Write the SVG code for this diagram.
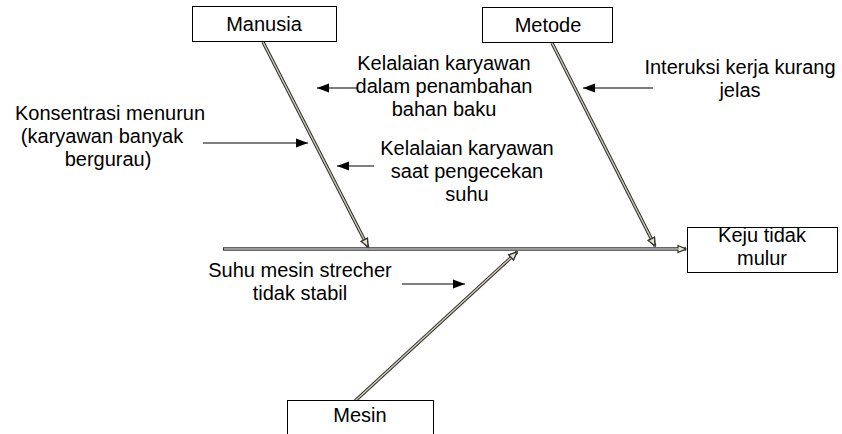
<svg xmlns="http://www.w3.org/2000/svg" width="842" height="434" viewBox="0 0 842 434">
<style>
text{font-family:"Liberation Sans",Arial,sans-serif;font-size:20px;fill:#000;text-anchor:middle}
.box{fill:#fff;stroke:#000;stroke-width:1}
.bo{fill:none;stroke:#333;stroke-width:3.4;marker-end:url(#hol)}
.bi{fill:none;stroke:#d6cfb8;stroke-width:1.3;marker-end:url(#hol)}
.si{fill:none;stroke:#fff;stroke-width:1.2}
.sm{fill:none;stroke:#000;stroke-width:1.2;marker-end:url(#blk)}
</style>
<defs>
<marker id="hol" markerUnits="userSpaceOnUse" markerWidth="14" markerHeight="12" refX="9" refY="4.5" orient="auto" overflow="visible">
<path d="M1,1 L9,4.5 L1,8 Z" fill="#e6e0cc" stroke="#333" stroke-width="1.2"/>
</marker>
<marker id="blk" markerUnits="userSpaceOnUse" markerWidth="14" markerHeight="12" refX="12" refY="5" orient="auto" overflow="visible">
<path d="M0,0.5 L12,5 L0,9.5 Z" fill="#000"/>
</marker>
</defs>
<g id="connectors">
<line class="bo" x1="223" y1="249" x2="686" y2="249"/>
<line class="si" x1="224" y1="249" x2="679" y2="249"/>
<line class="bo" x1="263" y1="42" x2="368" y2="247"/>
<line class="bi" x1="263" y1="42" x2="368" y2="247"/>
<line class="bo" x1="552" y1="43" x2="655" y2="246"/>
<line class="bi" x1="552" y1="43" x2="655" y2="246"/>
<line class="bo" x1="355" y1="401" x2="517" y2="252"/>
<line class="bi" x1="355" y1="401" x2="517" y2="252"/>
<line class="sm" x1="357" y1="88" x2="317" y2="88"/>
<line class="sm" x1="203" y1="143" x2="308" y2="143"/>
<line class="sm" x1="374" y1="166" x2="337" y2="166"/>
<line class="sm" x1="653" y1="88" x2="583" y2="88"/>
<line class="sm" x1="402" y1="284" x2="465" y2="284"/>
</g>
<g id="manusia">
<rect class="box" x="192.5" y="6.5" width="144" height="35"/>
<text x="264" y="31">Manusia</text>
</g>
<g id="metode">
<rect class="box" x="482.5" y="7.5" width="130" height="35"/>
<text x="548" y="32">Metode</text>
</g>
<g id="keju">
<rect class="box" x="687.5" y="227.5" width="150" height="45"/>
<text x="762" y="242">Keju tidak</text>
<text x="762" y="265">mulur</text>
</g>
<g id="mesin">
<rect class="box" x="287.5" y="400.5" width="146" height="40"/>
<text x="360" y="422">Mesin</text>
</g>
<g id="label-kelalaian1">
<text x="444" y="70">Kelalaian karyawan</text>
<text x="444" y="93">dalam penambahan</text>
<text x="444" y="116">bahan baku</text>
</g>
<g id="label-konsentrasi">
<text x="110" y="120">Konsentrasi menurun</text>
<text x="102" y="143">(karyawan banyak</text>
<text x="108" y="166">bergurau)</text>
</g>
<g id="label-kelalaian2">
<text x="467" y="155">Kelalaian karyawan</text>
<text x="467" y="178">saat pengecekan</text>
<text x="467" y="201">suhu</text>
</g>
<g id="label-interuksi">
<text x="740" y="74">Interuksi kerja kurang</text>
<text x="740" y="97">jelas</text>
</g>
<g id="label-suhu">
<text x="300" y="277">Suhu mesin strecher</text>
<text x="300" y="300">tidak stabil</text>
</g>
</svg>
